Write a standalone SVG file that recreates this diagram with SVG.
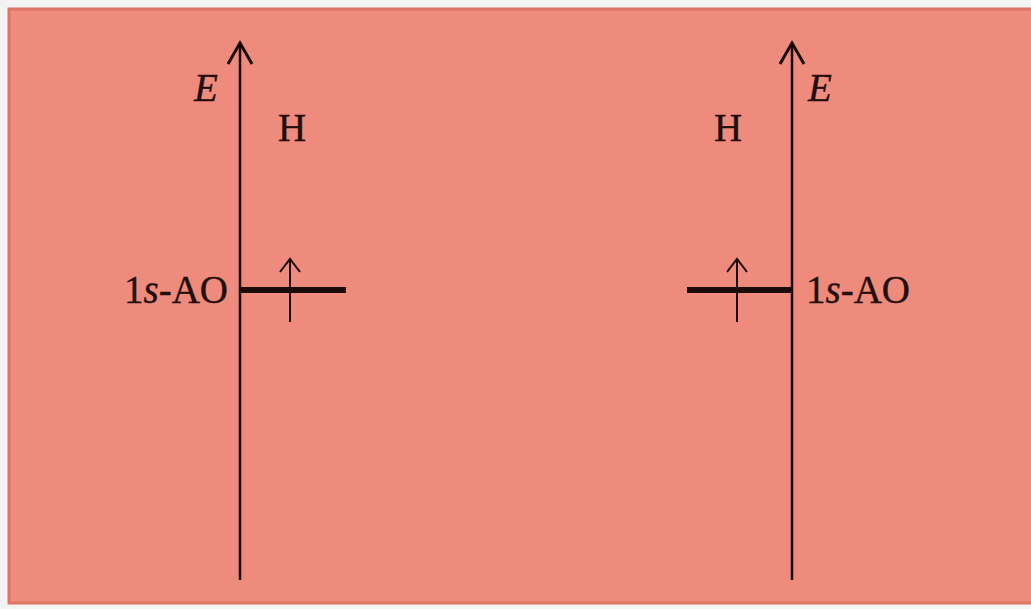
<svg xmlns="http://www.w3.org/2000/svg" width="1031" height="609" viewBox="0 0 1031 609">
<style>
.t{font-family:"Liberation Serif","Times New Roman",serif;font-size:39px;fill:#240e0c;stroke:#240e0c;stroke-width:0.4}
.i{font-style:italic}
.ax{stroke:#1a0a08;stroke-width:2.5;fill:none}
.hd{stroke:#1a0a08;stroke-width:3;fill:none;stroke-linejoin:miter}
.lv{stroke:#1a0a08;stroke-width:6}
.sp{stroke:#1a0a08;stroke-width:2;fill:none}
</style>
<rect width="1031" height="609" fill="#f3f3f3"/>
<rect x="9" y="9" width="1030" height="594" fill="#ef8b7c" stroke="#de7566" stroke-width="3"/>
<g id="connectors">
<line class="ax" x1="240" y1="580" x2="240" y2="43"/>
<path class="hd" d="M228,64 L240,43 L252,64"/>
<line class="ax" x1="792" y1="580" x2="792" y2="43"/>
<path class="hd" d="M780,64 L792,43 L804,64"/>
</g>
<g id="left-diagram">
<text class="t i" x="194" y="101">E</text>
<text class="t" x="278" y="141">H</text>
<text class="t" x="228" y="303" text-anchor="end">1<tspan class="i">s</tspan>-AO</text>
<line class="lv" x1="241" y1="290" x2="346" y2="290"/>
<line class="sp" x1="290" y1="322" x2="290" y2="260"/>
<path class="sp" d="M280,272 L290,259 L300,272"/>
</g>
<g id="right-diagram">
<text class="t i" x="808" y="101">E</text>
<text class="t" x="714" y="141">H</text>
<text class="t" x="806" y="303">1<tspan class="i">s</tspan>-AO</text>
<line class="lv" x1="687" y1="290" x2="791" y2="290"/>
<line class="sp" x1="737" y1="322" x2="737" y2="260"/>
<path class="sp" d="M727,272 L737,259 L747,272"/>
</g>
</svg>
